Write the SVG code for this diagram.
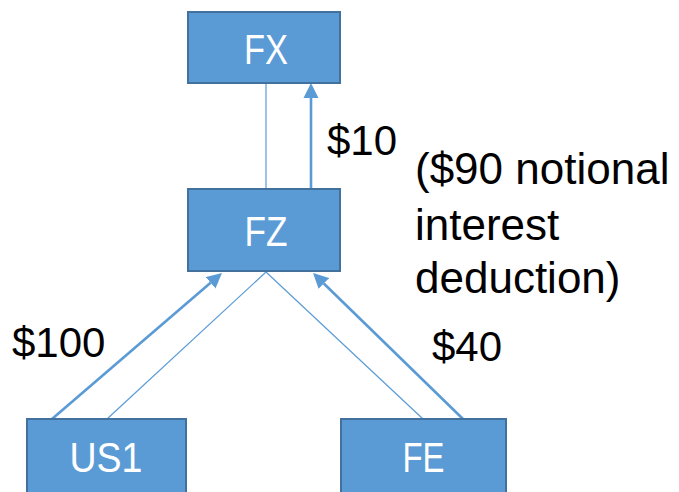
<svg xmlns="http://www.w3.org/2000/svg" width="679" height="492" viewBox="0 0 679 492">
  <style>
    .box { fill: #5B9BD5; stroke: #41719C; stroke-width: 2; }
    .name { fill: #FFFFFF; font-family: "Liberation Sans", Arial, sans-serif; font-size: 43px; text-anchor: middle; }
    .lbl { fill: #000000; font-family: "Liberation Sans", Arial, sans-serif; font-size: 42px; }
    .note { fill: #000000; font-family: "Liberation Sans", Arial, sans-serif; font-size: 44px; }
    .link { stroke: #5B9BD5; stroke-width: 1.2; fill: none; }
    .flow { stroke: #5B9BD5; stroke-width: 2.6; fill: none; marker-end: url(#head); }
  </style>
  <defs>
    <marker id="head" markerUnits="userSpaceOnUse" viewBox="0 -8 15 16" refX="0" refY="0" markerWidth="15" markerHeight="16" orient="auto">
      <path d="M0,-7.5 L15,0 L0,7.5 Z" fill="#5B9BD5"/>
    </marker>
  </defs>

  <g id="connectors">
    <!-- ownership lines -->
    <line class="link" x1="266" y1="83" x2="266" y2="189"/>
    <line class="link" x1="107" y1="419" x2="266" y2="272"/>
    <line class="link" x1="266" y1="272" x2="423" y2="419"/>
    <!-- payment flows -->
    <line class="flow" x1="311" y1="189" x2="311" y2="98"/>
    <line class="flow" x1="52" y1="419" x2="210.6" y2="282.8"/>
    <line class="flow" x1="463" y1="419" x2="323.8" y2="283.5"/>
  </g>

  <g id="node-fx">
    <rect class="box" x="188" y="12" width="152" height="71"/>
    <text class="name" x="266" y="64" textLength="44" lengthAdjust="spacingAndGlyphs">FX</text>
  </g>
  <g id="node-fz">
    <rect class="box" x="188" y="189" width="152" height="82"/>
    <text class="name" x="266" y="246" textLength="43" lengthAdjust="spacingAndGlyphs">FZ</text>
  </g>
  <g id="node-us1">
    <rect class="box" x="27" y="419" width="159" height="80"/>
    <text class="name" x="106" y="472" textLength="73" lengthAdjust="spacingAndGlyphs">US1</text>
  </g>
  <g id="node-fe">
    <rect class="box" x="341" y="419" width="165" height="80"/>
    <text class="name" x="423.5" y="472" textLength="42" lengthAdjust="spacingAndGlyphs">FE</text>
  </g>

  <g id="labels">
    <text class="lbl" x="327" y="155">$10</text>
    <text class="lbl" x="12" y="357">$100</text>
    <text class="lbl" x="432" y="361">$40</text>
    <text class="note" x="415" y="184">($90 notional</text>
    <text class="note" x="415" y="240">interest</text>
    <text class="note" x="415" y="293">deduction)</text>
  </g>
</svg>
